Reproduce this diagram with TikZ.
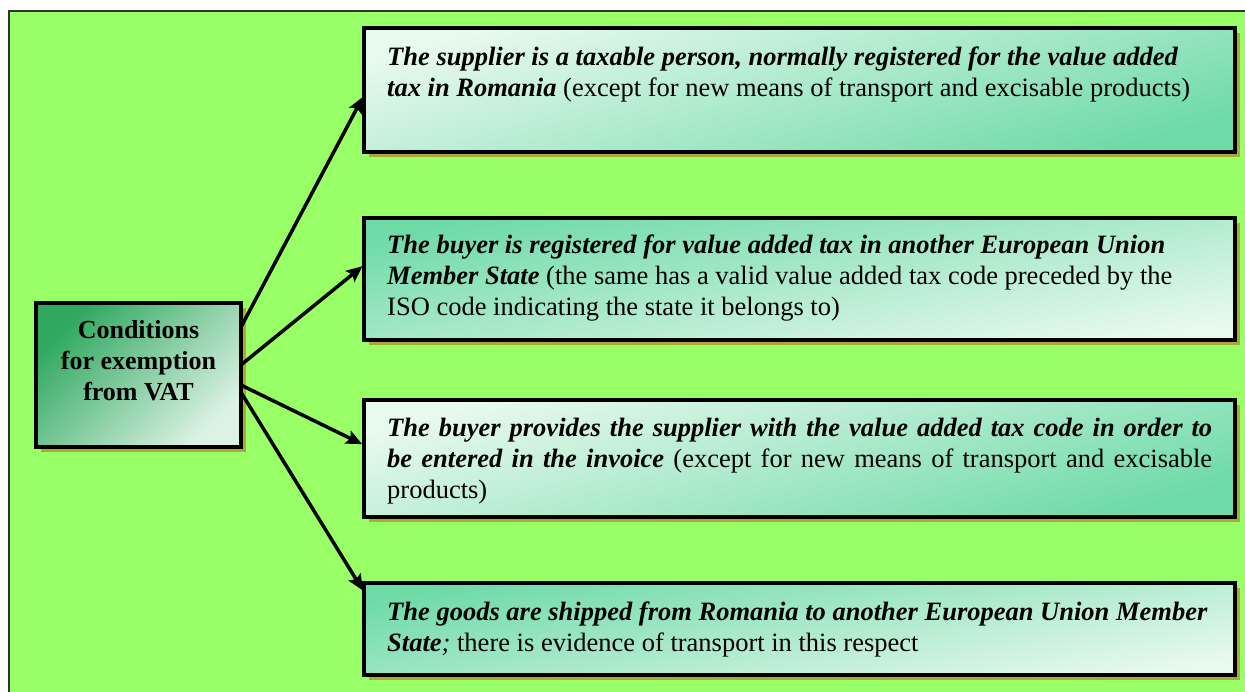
\documentclass[tikz,border=0pt]{standalone}
\usepackage{fontspec}
\setmainfont{Liberation Serif}
\usetikzlibrary{arrows.meta,calc,shadows}

\definecolor{bggreen}{RGB}{153,255,102}
\definecolor{boxlight}{RGB}{232,249,238}
\definecolor{boxgreen}{RGB}{110,218,168}
\definecolor{condark}{RGB}{48,168,96}
\definecolor{conlight}{RGB}{220,242,228}
\definecolor{shadowolive}{RGB}{172,168,58}
\definecolor{framegray}{RGB}{50,50,50}

\newcommand{\bfit}[1]{\textbf{\textit{#1}}}

\tikzset{
  panel/.style={rectangle, draw=black, line width=4pt, anchor=north west,
    inner sep=0pt, outer sep=0pt,
    drop shadow={shadow xshift=5pt, shadow yshift=-5pt, fill=shadowolive, opacity=1}},
  lightgreen/.style={top color=boxlight, bottom color=boxgreen, shading angle=16},
  greenlight/.style={top color=boxgreen, bottom color=boxlight, shading angle=10},
  darklight/.style={top color=condark, bottom color=conlight, shading angle=45},
  paneltext/.style={anchor=north west, inner sep=0pt, align=left,
    font=\fontsize{26.5}{31}\selectfont},
  conntext/.style={anchor=north, inner sep=0pt, align=center,
    font=\fontsize{26}{31}\selectfont\bfseries},
  conn/.style={line width=3.5pt, -{Stealth[length=16pt,width=14pt,inset=3pt]},
    shorten >=2pt}
}

\begin{document}
\begin{tikzpicture}[x=1pt,y=-1pt]
  \clip (0,0) rectangle (1245,691);
  \useasboundingbox (0,0) rectangle (1245,691);

  % green sheet with its frame
  \draw[framegray, line width=2pt, fill=bggreen] (9,11) rectangle (1270,720);

  % central box
  \node[panel, darklight, minimum width=205pt, minimum height=144pt] (m) at (36,303) {};
  \node[conntext] (mt) at (138.5,318) {\rule{0pt}{20pt}Conditions\\ for exemption\\ from VAT};

  % condition boxes
  \node[panel, lightgreen, minimum width=871pt, minimum height=124pt] (b1) at (364,28) {};
  \node[panel, greenlight, minimum width=871pt, minimum height=122pt] (b2) at (364,218) {};
  \node[panel, lightgreen, minimum width=871pt, minimum height=117pt] (b3) at (364,400) {};
  \node[panel, greenlight, minimum width=871pt, minimum height=92pt] (b4) at (364,583) {};

  \node[paneltext] (t1) at (387,45) {\rule{0pt}{20pt}\bfit{The supplier is a taxable person, normally registered for the value added}\\
    \bfit{tax in Romania} (except for new means of transport and excisable products)};
  \node[paneltext] (t2) at (387,233) {\rule{0pt}{20pt}\bfit{The buyer is registered for value added tax in another European Union}\\
    \bfit{Member State} (the same has a valid value added tax code preceded by the\\
    ISO code indicating the state it belongs to)};
  \node[paneltext] (t3) at (387,416) {\rule{0pt}{20pt}\makebox[825pt][s]{\bfit{The buyer provides the supplier with the value added tax code in order to}}\\
    \makebox[825pt][s]{\bfit{be entered in the invoice} (except for new means of transport and excisable}\\
    products)};
  \node[paneltext] (t4) at (387,600) {\rule{0pt}{20pt}\bfit{The goods are shipped from Romania to another European Union Member}\\
    \bfit{State}\textit{;} there is evidence of transport in this respect};

  % connectors
  \draw[conn] ($(m.north east)!0.167!(m.south east)$) -- ($(b1.north west)!0.54!(b1.south west)$);
  \draw[conn] ($(m.north east)!0.43!(m.south east)$) -- ($(b2.north west)!0.385!(b2.south west)$);
  \draw[conn] ($(m.north east)!0.57!(m.south east)$) -- ($(b3.north west)!0.385!(b3.south west)$);
  \draw[conn] ($(m.north east)!0.62!(m.south east)$) -- ($(b4.north west)!0.1!(b4.south west)$);
\end{tikzpicture}
\end{document}
